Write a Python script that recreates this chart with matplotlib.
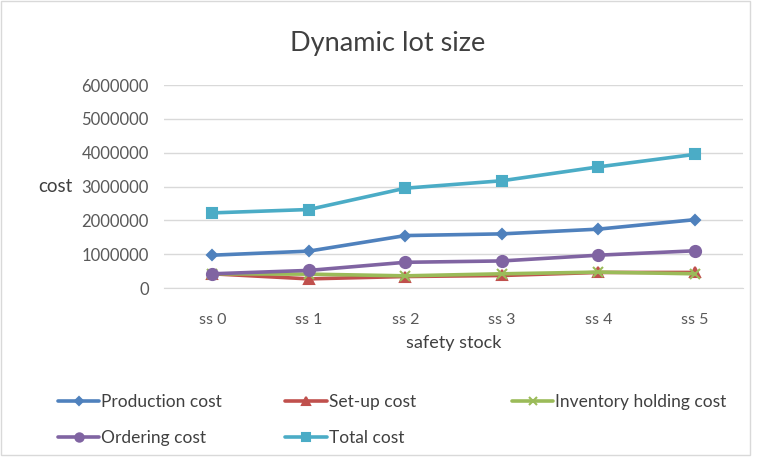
import matplotlib

matplotlib.use("Agg")
import matplotlib.pyplot as plt  # noqa: E402
from matplotlib.patches import Rectangle  # noqa: E402

plt.rcParams["font.family"] = ["Lato", "DejaVu Sans"]

CATEGORIES = ["ss 0", "ss 1", "ss 2", "ss 3", "ss 4", "ss 5"]
PRODUCTION = [970000, 1090000, 1550000, 1600000, 1740000, 2020000]
SETUP = [420000, 270000, 340000, 370000, 460000, 460000]
INVENTORY = [420000, 410000, 360000, 420000, 470000, 420000]
ORDERING = [420000, 520000, 760000, 800000, 970000, 1100000]
TOTAL = [2220000, 2320000, 2950000, 3170000, 3580000, 3950000]
Y_TICKS = [0, 1000000, 2000000, 3000000, 4000000, 5000000, 6000000]

# label, values, colour, marker, marker size
SERIES = [
    ("Production cost", PRODUCTION, "#4F81BD", "D", 5),
    ("Set-up cost", SETUP, "#C0504D", "^", 7),
    ("Inventory holding cost", INVENTORY, "#9BBB59", "x", 7),
    ("Ordering cost", ORDERING, "#8064A2", "o", 8),
    ("Total cost", TOTAL, "#4BACC6", "s", 7),
]

fig = plt.figure(figsize=(7.58, 4.62), dpi=100)
ax = fig.add_axes([0.2164, 0.3766, 0.764, 0.4394])

x = range(len(CATEGORIES))
handles = []
for label, vals, color, marker, ms in SERIES:
    (h,) = ax.plot(x, vals, color=color, lw=2.6, marker=marker, ms=ms,
                   mew=1.5, label=label, solid_capstyle="round", zorder=3)
    handles.append(h)

ax.set_xlim(-0.5, len(CATEGORIES) - 0.5)
ax.set_ylim(0, 6000000)
ax.set_yticks(Y_TICKS)
ax.set_yticklabels([str(v) for v in Y_TICKS])
ax.set_xticks(list(x))
ax.set_xticklabels(CATEGORIES)
ax.tick_params(length=0, colors="#595959")
ax.tick_params(axis="y", labelsize=12, pad=11)
ax.tick_params(axis="x", labelsize=11.5, pad=18)
ax.grid(axis="y", color="#D9D9D9", lw=1)
ax.set_axisbelow(True)
for side in ("top", "right", "left"):
    ax.spines[side].set_visible(False)
ax.spines["bottom"].set_color("#D9D9D9")

ax.set_xlabel("safety stock", fontsize=13, color="#404040", labelpad=6)
fig.text(0.073, 0.596, "cost", fontsize=13.5, color="#404040", va="center", ha="center")
fig.text(0.512, 0.905, "Dynamic lot size", fontsize=19.5, color="#404040", ha="center", va="center")

# three legend columns at fixed positions
cols = [(0.067, [handles[0], handles[3]]), (0.367, [handles[1], handles[4]]),
        (0.666, [handles[2]])]
for xpos, hs in cols:
    leg = fig.legend(hs, [h.get_label() for h in hs], loc="upper left",
                     bbox_to_anchor=(xpos, 0.163), frameon=False,
                     fontsize=12.5, handlelength=2.4, handletextpad=0.1,
                     labelspacing=1.15, borderaxespad=0, markerscale=0.75)
    for t in leg.get_texts():
        t.set_color("#404040")

fig.patches.append(Rectangle((0.001, 0.015), 0.988, 0.983, transform=fig.transFigure,
                             fill=False, edgecolor="#D9D9D9", lw=1))
fig.savefig("out.png", dpi=100)
